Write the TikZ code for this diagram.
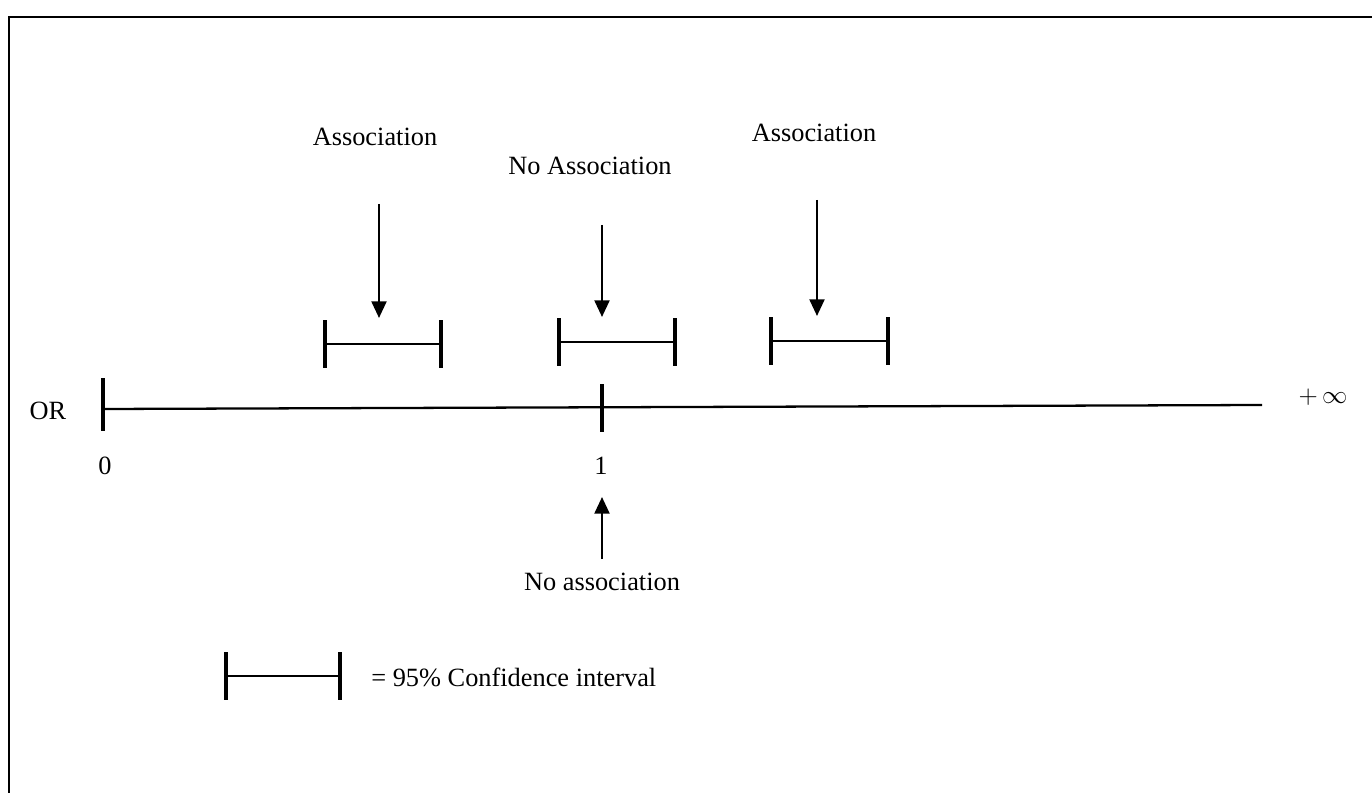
\documentclass[tikz,border=0pt]{standalone}
\usepackage{fontspec}
\setmainfont{Liberation Serif}
\usetikzlibrary{arrows.meta}

\begin{document}
\begin{tikzpicture}[x=0.02cm, y=-0.02cm,
    every node/.style={font=\fontsize{15}{18}\selectfont, inner sep=0pt},
    frameline/.style={line width=1.4pt},
    axisline/.style={line width=1.3pt},
    tickline/.style={line width=1.8pt},
    cibar/.style={line width=1.7pt,
      {Bar[width=27pt, line width=2pt]}-{Bar[width=27pt, line width=2pt]}},
    pointer/.style={line width=1.4pt, -{Triangle[length=9.5pt, width=8.5pt]}}]
    \useasboundingbox (0,0) rectangle (1372,793);
    % frame
    \draw[frameline] (9,793) -- (9,17) -- (1372,17);
    % OR axis
    \node (OR) at (48,411)
    {OR}; \node (zeroLab) at (105,466)
    {0}; \node (oneLab) at (601,466)
    {1}; \node (infLab) at (1323,397)
    {$+\,\infty$};
    \coordinate (axisL) at (103,409);
    \coordinate (axisR) at (1262,405);
    \coordinate (axisOne) at (602,407);
    \draw[axisline] (axisL) -- (axisR);
    \draw[tickline] ([yshift=-22*0.02cm]axisL) -- ([yshift=31*0.02cm]axisL);
    \draw[tickline] ([yshift=-25*0.02cm]axisOne) -- ([yshift=23*0.02cm]axisOne);
    % no association below the axis
    \node (noAssocB) at (602,582)
    {No association};
    \coordinate (upS) at (602,559);
    \coordinate (upE) at (602,497);
    \draw[pointer] (upS) -- (upE);
    % left interval
    \node (assocL) at (375,137)
    {Association};
    \coordinate (ciLl) at (323,344); \coordinate (ciLr) at (443,344);
    \draw[cibar] (ciLl) -- (ciLr);
    \coordinate (ptrLs) at (379,204); \coordinate (ptrLe) at (379,318);
    \draw[pointer] (ptrLs) -- (ptrLe);
    % middle interval
    \node (noAssocM) at (590,166)
    {No Association};
    \coordinate (ciMl) at (557,342); \coordinate (ciMr) at (677,342);
    \draw[cibar] (ciMl) -- (ciMr);
    \coordinate (ptrMs) at (602,225); \coordinate (ptrMe) at (602,317);
    \draw[pointer] (ptrMs) -- (ptrMe);
    % right interval
    \node (assocR) at (814,133)
    {Association};
    \coordinate (ciRl) at (769,341); \coordinate (ciRr) at (890,341);
    \draw[cibar] (ciRl) -- (ciRr);
    \coordinate (ptrRs) at (817,200); \coordinate (ptrRe) at (817,316);
    \draw[pointer] (ptrRs) -- (ptrRe);
    % legend
    \coordinate (legL) at (224,676); \coordinate (legR) at (342,676);
    \draw[cibar] (legL) -- (legR);
    \node[anchor=west] (legText) at (371,677)
    {= 95\% Confidence interval};
\end{tikzpicture}
\end{document}
